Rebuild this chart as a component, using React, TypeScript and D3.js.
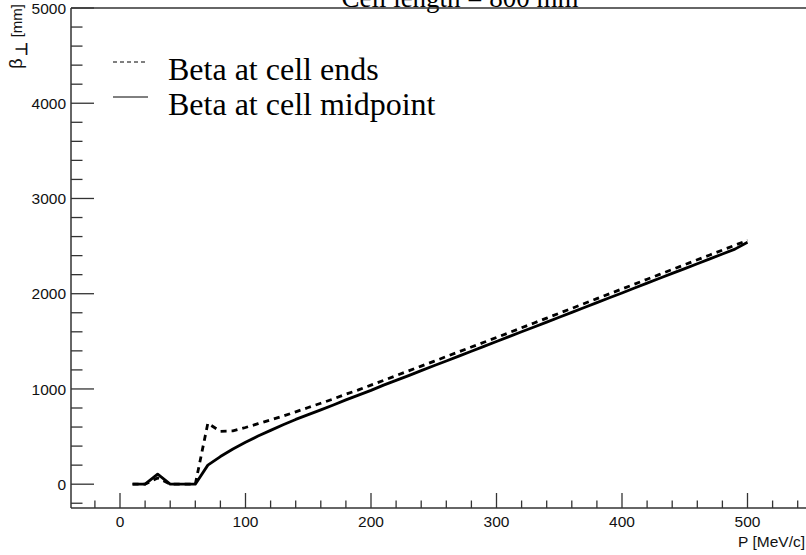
import React from "react";
import * as d3 from "d3";

const momentum = [10,20,30,40,50,60,70,80,90,100,110,120,130,140,150,160,170,180,190,200,210,220,230,240,250,260,270,280,290,300,310,320,330,340,350,360,370,380,390,400,410,420,430,440,450,460,470,480,490,500];
const betaMid = [0,0,105,0,0,0,200,290,370,440,505,565,625,680,730,780,832,885,935,985,1040,1090,1140,1192,1243,1294,1345,1396,1447,1498,1549,1600,1651,1702,1753,1804,1855,1906,1957,2008,2060,2111,2162,2213,2264,2315,2366,2417,2468,2540];
const betaEnds = [0,0,65,0,0,0,640,555,560,595,635,675,715,760,805,850,895,945,990,1040,1090,1140,1190,1240,1290,1340,1390,1440,1490,1540,1591,1642,1693,1744,1795,1846,1897,1948,1999,2050,2101,2152,2203,2254,2305,2356,2407,2458,2509,2560];

const xMajor = [0,100,200,300,400,500];
const yMajor = [0,1000,2000,3000,4000,5000];
const titleText = "Cell length = 800 mm";
const legendLabels = ["Beta at cell ends", "Beta at cell midpoint"];

export default function App() {
  const W = 806, H = 555;
  const left = 71, top = 8, bottom = 508;
  const x = d3.scaleLinear().domain([0, 100]).range([120, 245.5]);
  const xMin = x.invert(left);
  const xMax = 550;
  const xRight = x(xMax);
  const y = d3.scaleLinear().domain([-250, 5000]).range([bottom, top]);

  const xMinor = d3.range(-20, 560, 20).filter(v => v > xMin && v < xMax);
  const yMinor = d3.range(-200, 5001, 200);

  const lineGen = (vals: number[]) =>
    d3.line<number>().x((_, i) => x(momentum[i])).y(v => y(v))(vals) || "";

  const frameColor = "#333";
  const sans = "'Liberation Sans', Arial, sans-serif";
  const serif = "'Liberation Serif', 'Times New Roman', serif";

  return (
    <svg width={W} height={H} style={{ position: "absolute", left: 0, top: 0, background: "#fff" }}>
      <rect x={0} y={0} width={W} height={H} fill="#fff" />
      {/* title */}
      <text x={460} y={6.5} textAnchor="middle" fontFamily={serif} fontSize={27} fill="#000">{titleText}</text>
      {/* curves */}
      <path d={lineGen(betaMid)} fill="none" stroke="#000" strokeWidth={2.8} strokeLinejoin="round" />
      <path d={lineGen(betaEnds)} fill="none" stroke="#000" strokeWidth={2.8} strokeDasharray="6,5" />
      {/* frame */}
      <line x1={left} x2={xRight} y1={top} y2={top} stroke={frameColor} strokeWidth={1.5} />
      <line x1={left} x2={xRight} y1={bottom} y2={bottom} stroke={frameColor} strokeWidth={1.5} />
      <line x1={left} x2={left} y1={top} y2={bottom} stroke={frameColor} strokeWidth={1.5} />
      {/* y ticks */}
      {yMinor.map(v => {
        const major = v % 1000 === 0;
        return <line key={"yt" + v} x1={left} x2={left + (major ? 23 : 11.5)} y1={y(v)} y2={y(v)} stroke={frameColor} strokeWidth={1.3} />;
      })}
      {yMajor.map(v => (
        <text key={"yl" + v} x={66} y={y(v)} dy="0.36em" textAnchor="end" fontFamily={sans} fontSize={15.5} fill="#111">{v}</text>
      ))}
      {/* x ticks */}
      {xMinor.map(v => {
        const major = v % 100 === 0;
        return <line key={"xt" + v} x1={x(v)} x2={x(v)} y1={bottom} y2={bottom - (major ? 15 : 7.5)} stroke={frameColor} strokeWidth={1.3} />;
      })}
      {xMajor.map(v => (
        <text key={"xl" + v} x={x(v)} y={527} textAnchor="middle" fontFamily={sans} fontSize={15.5} fill="#111">{v}</text>
      ))}
      {/* axis titles */}
      <text x={805} y={547} textAnchor="end" fontFamily={sans} fontSize={15.5} fill="#111">P [MeV/c]</text>
      <text transform="translate(22,4) rotate(-90)" textAnchor="end" fontFamily={sans} fontSize={15} fill="#111">
        <tspan fontSize={18}>β</tspan><tspan dx={3} dy={5} fontSize={16} fontWeight="bold">⊥</tspan><tspan dy={-5}>  [mm]</tspan>
      </text>
      {/* legend */}
      <line x1={113} x2={148} y1={62} y2={62} stroke="#000" strokeWidth={1} strokeDasharray="4,3" />
      <text x={168} y={80} fontFamily={serif} fontSize={32} fill="#000">{legendLabels[0]}</text>
      <line x1={113} x2={148} y1={97} y2={97} stroke="#000" strokeWidth={1} />
      <text x={168} y={115} fontFamily={serif} fontSize={32} fill="#000">{legendLabels[1]}</text>
    </svg>
  );
}
